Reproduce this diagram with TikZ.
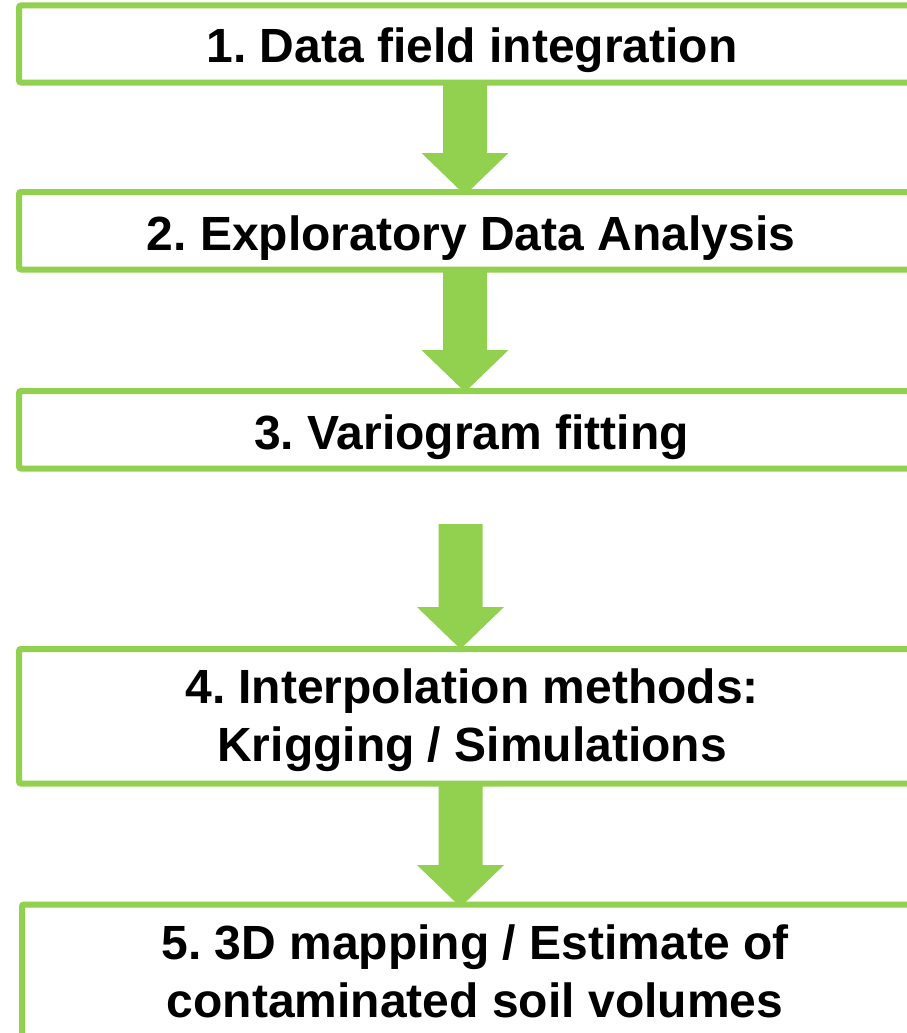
\documentclass[tikz,border=0pt]{standalone}
\usepackage{fontspec}
\setmainfont{Liberation Sans}
\usetikzlibrary{calc}
\definecolor{pgreen}{RGB}{146,208,80}
\frenchspacing
\newcommand\flowarrow[4]{% x centre, from, to, tip offset
  \fill[pgreen] let \p1=(#2), \p2=(#3) in
    (#1pt-22pt,\y1) -- (#1pt+22pt,\y1) -- (#1pt+22pt,\y2-#4pt+42pt)
    -- (#1pt+43.5pt,\y2-#4pt+42pt) -- (#1pt,\y2-#4pt)
    -- (#1pt-43.5pt,\y2-#4pt+42pt) -- (#1pt-22pt,\y2-#4pt+42pt) -- cycle;}
\begin{document}
\begin{tikzpicture}[x=1pt,y=-1pt,
  box/.style={draw=pgreen, line width=6pt, rounded corners=2pt, outer sep=0pt, inner sep=0pt},
  lbl/.style={font=\fontsize{48}{57.5}\selectfont\bfseries\frenchspacing, align=center, anchor=base, inner sep=0pt, text=black}]
\useasboundingbox (0,0) rectangle (907,1033);
\clip (0,0) rectangle (907,1033);
\fill[white] (0,0) rectangle (907,1033);
% boxes
\node[box, minimum width=911pt, minimum height=77pt] (b1) at (474.5,44) {};
\node[box, minimum width=911pt, minimum height=77.5pt] (b2) at (474.5,230.75) {};
\node[box, minimum width=911pt, minimum height=77.5pt] (b3) at (474.5,429.75) {};
\node[box, minimum width=911pt, minimum height=134.5pt] (b4) at (474.5,716.25) {};
\node[box, minimum width=908pt, minimum height=205.5pt] (b5) at (476,1007.25) {};
% labels (base anchor = baseline of the last line)
\node[lbl] (t1) at (472,63) {1. Data field integration};
\node[lbl] (t2) at (471,250) {2. Exploratory Data Analysis};
\node[lbl] (t3) at (471.5,449) {3. Variogram fitting};
\node[lbl] (t4) at (472,761) {4. Interpolation methods:\\Krigging / Simulations};
\node[lbl] (t5) at (475,1017) {5. 3D mapping / Estimate of\\contaminated soil volumes};
% arrows
\coordinate (a3s) at (460.5,524);
\flowarrow{465}{b1.south}{b2.north}{3}
\flowarrow{465}{b2.south}{b3.north}{1}
\flowarrow{460.5}{a3s}{b4.north}{0}
\flowarrow{460.5}{b4.south}{b5.north}{2.5}
\end{tikzpicture}
\end{document}
